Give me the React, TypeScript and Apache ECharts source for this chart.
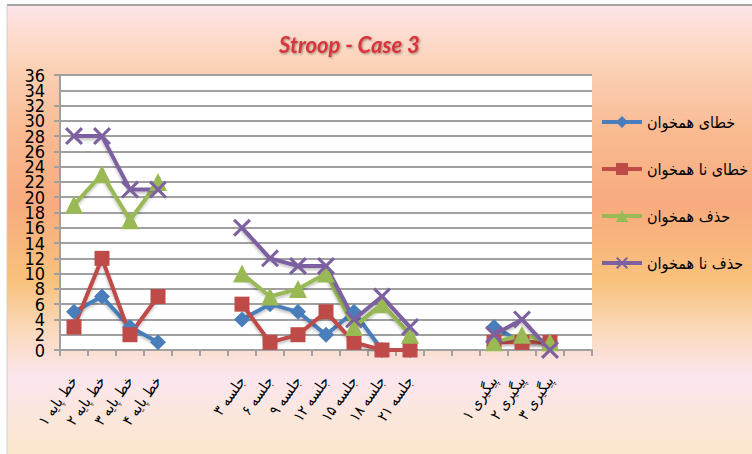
import React, { useEffect, useRef } from "react";
import * as echarts from "echarts";

const categories = [
  "خط پایه ۱", "خط پایه ۲", "خط پایه ۳", "خط پایه ۴", " ", "  ",
  "جلسه ۳", "جلسه ۶", "جلسه ۹", "جلسه ۱۲", "جلسه ۱۵", "جلسه ۱۸", "جلسه ۲۱", "   ", "    ",
  "پیگیری ۱", "پیگیری ۲", "پیگیری ۳", "     ",
];

const seriesNames = ["خطای همخوان", "خطای نا همخوان", "حذف همخوان", "حذف نا همخوان"];

const congruentErrors = [5, 7, 3, 1, null, null, 4, 6, 5, 2, 5, 0, 0, null, null, 3, 1, 1, null];
const incongruentErrors = [3, 12, 2, 7, null, null, 6, 1, 2, 5, 1, 0, 0, null, null, 1, 1, 1, null];
const congruentOmissions = [19, 23, 17, 22, null, null, 10, 7, 8, 10, 3, 6, 2, null, null, 1, 2, 1, null];
const incongruentOmissions = [28, 28, 21, 21, null, null, 16, 12, 11, 11, 4, 7, 3, null, null, 2, 4, 0, null];

const yMin = 0;
const yMax = 36;
const yStep = 2;

const colors = ["#4A7EBB", "#BE4B48", "#98B954", "#7D60A0"];
const xSymbol =
  "path://M0,1.2 L1.2,0 L5,3.8 L8.8,0 L10,1.2 L6.2,5 L10,8.8 L8.8,10 L5,6.2 L1.2,10 L0,8.8 L3.8,5 Z";

export default function App() {
  const ref = useRef<HTMLDivElement>(null);

  useEffect(() => {
    if (!ref.current) return;
    const chart = echarts.init(ref.current, undefined, { renderer: "svg" });

    const mk = (name: string, data: (number | null)[], color: string, symbol: string, size: number) => ({
      name,
      type: "line",
      yAxisIndex: 0,
      data,
      connectNulls: false,
      symbol,
      symbolSize: size,
      lineStyle: {
        width: 4,
        color,
        shadowColor: "rgba(0,0,0,0.25)",
        shadowBlur: 3,
        shadowOffsetY: 2,
      },
      itemStyle: { color },
      emphasis: { disabled: true },
    });

    const yLabelStyle = {
      margin: 15,
      fontFamily: "'DejaVu Sans Condensed', sans-serif",
      fontSize: 18,
      lineHeight: 7,
      color: "#000",
    };

    chart.setOption({
      animation: false,
      backgroundColor: new echarts.graphic.LinearGradient(0, 0, 0, 1, [
        { offset: 0, color: "#FDE6EE" },
        { offset: 0.12, color: "#FCD6BE" },
        { offset: 0.3, color: "#F9B990" },
        { offset: 0.45, color: "#F8AB7E" },
        { offset: 0.62, color: "#F9C27C" },
        { offset: 0.72, color: "#FAD8B8" },
        { offset: 0.83, color: "#FCE6EE" },
        { offset: 1, color: "#FBE7CC" },
      ]),
      title: {
        text: "Stroop - Case 3",
        left: 274,
        top: 28,
        textStyle: {
          fontFamily: "Lato, 'DejaVu Sans Condensed', sans-serif",
          fontStyle: "italic",
          fontWeight: "bold",
          fontSize: 22,
          color: "#D6343B",
          textShadowColor: "rgba(0,0,0,0.4)",
          textShadowBlur: 2,
          textShadowOffsetX: 1,
          textShadowOffsetY: 1,
        },
      },
      legend: {
        orient: "vertical",
        left: 600,
        top: 114,
        padding: 0,
        itemGap: 31,
        itemWidth: 40,
        itemHeight: 15,
        data: seriesNames,
        lineStyle: { width: 4 },
        textStyle: {
          fontFamily: "'DejaVu Sans Condensed', 'DejaVu Sans', sans-serif",
          fontSize: 16,
          color: "#000",
        },
      },
      grid: {
        left: 60,
        right: 160,
        top: 75,
        bottom: 104,
        show: true,
        backgroundColor: "#FFFFFF",
        borderWidth: 0,
      },
      xAxis: {
        type: "category",
        data: categories,
        boundaryGap: true,
        axisLine: { show: true, lineStyle: { color: "#A0A0A0", width: 2 } },
        axisTick: { show: true, interval: 0, length: 6, lineStyle: { color: "#A0A0A0", width: 2 } },
        axisLabel: {
          interval: 0,
          rotate: 55,
          margin: 28,
          fontFamily: "'DejaVu Sans Condensed', 'DejaVu Sans', sans-serif",
          fontSize: 15,
          color: "#000",
        },
        splitLine: { show: false },
      },
      yAxis: [
        {
          type: "value",
          position: "left",
          offset: 0,
          min: yMin,
          max: yMax,
          interval: yStep,
          axisLine: { show: true, lineStyle: { color: "#A0A0A0", width: 2 } },
          axisTick: { show: true, length: 6, lineStyle: { color: "#A0A0A0", width: 2 } },
          axisLabel: { ...yLabelStyle, showMinLabel: true, showMaxLabel: true },
          splitLine: { show: true, lineStyle: { color: "#A0A0A0", width: 2 } },
        },
        {
          type: "value",
          position: "left",
          offset: 0,
          min: yMin,
          max: yMax,
          interval: yStep,
          axisLine: { show: false },
          axisTick: { show: false },
          splitLine: { show: false },
          axisLabel: {
            ...yLabelStyle,
            showMinLabel: false,
            showMaxLabel: false,
            formatter: (v: number) => (v === yMin + yStep || v === yMax - yStep ? String(v) : ""),
          },
        },
      ],
      graphic: [
        { type: "rect", left: 0, top: 0, shape: { width: 752, height: 5 }, style: { fill: "#FFFFFF" }, silent: true },
        { type: "rect", left: 0, top: 0, shape: { width: 7, height: 454 }, style: { fill: "#FFFFFF" }, silent: true },
        { type: "line", shape: { x1: 7, y1: 5, x2: 752, y2: 5 }, style: { stroke: "#8A8A8A", lineWidth: 1.5 }, silent: true },
        { type: "line", shape: { x1: 7, y1: 5, x2: 7, y2: 454 }, style: { stroke: "#CFCFCF", lineWidth: 1 }, silent: true },
      ],
      series: [
        mk(seriesNames[0], congruentErrors, colors[0], "diamond", 16),
        mk(seriesNames[1], incongruentErrors, colors[1], "rect", 15),
        mk(seriesNames[2], congruentOmissions, colors[2], "triangle", 18),
        mk(seriesNames[3], incongruentOmissions, colors[3], xSymbol, 18),
      ],
    });

    return () => chart.dispose();
  }, []);

  return <div ref={ref} style={{ position: "fixed", left: 0, top: 0, width: 752, height: 454 }} />;
}
